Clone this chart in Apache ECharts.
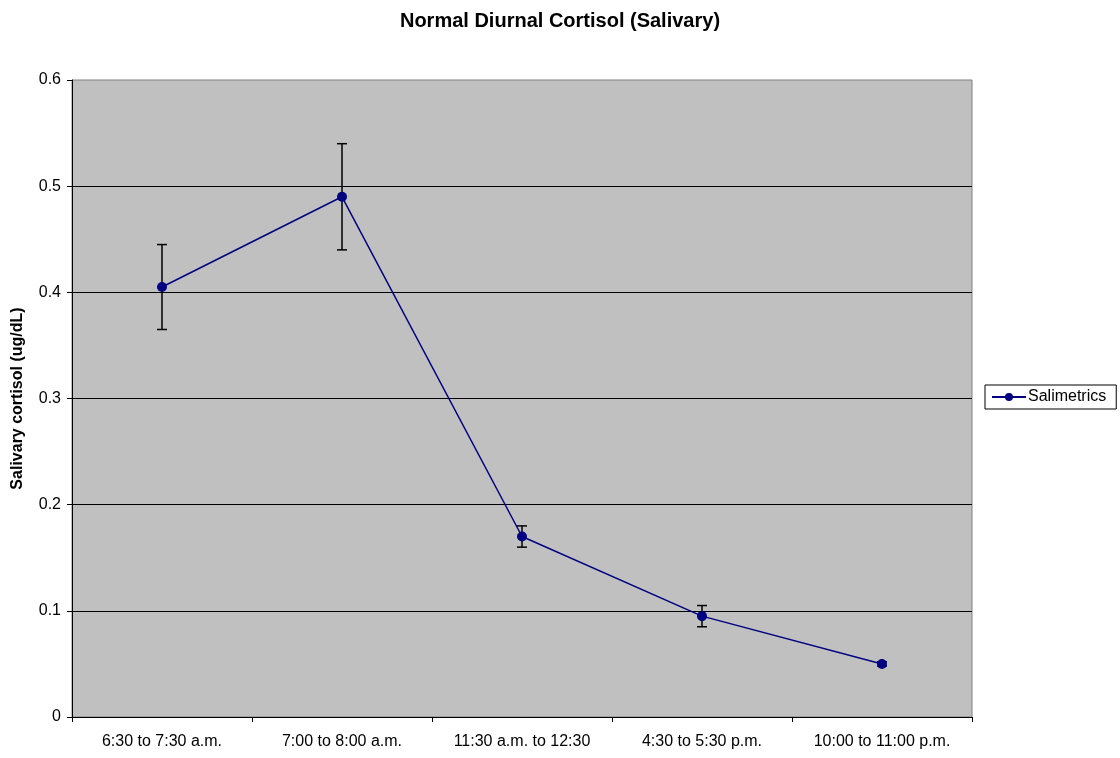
<!DOCTYPE html>
<html>
<head>
<meta charset="utf-8">
<script src="https://cdn.jsdelivr.net/npm/echarts@6/dist/echarts.min.js"></script>
<style>html,body{margin:0;padding:0;background:#fff}#c{width:1120px;height:758px}</style>
</head>
<body>
<div id="c"></div>
<script>
const categories = ['6:30 to 7:30 a.m.', '7:00 to 8:00 a.m.', '11:30 a.m. to 12:30', '4:30 to 5:30 p.m.', '10:00 to 11:00 p.m.'];
const values = [0.405, 0.49, 0.17, 0.095, 0.05];
const errLow = [0.365, 0.44, 0.16, 0.085, 0.048];
const errHigh = [0.445, 0.54, 0.18, 0.105, 0.052];
const seriesName = 'Salimetrics';

const font = 'Liberation Sans, Arial, sans-serif';
const chart = echarts.init(document.getElementById('c'));
const errData = categories.map((c, i) => [i, errLow[i], errHigh[i]]);
chart.setOption({
  animation: false,
  backgroundColor: '#fff',
  title: {
    text: 'Normal Diurnal Cortisol (Salivary)',
    left: 555, top: 6, textAlign: 'center',
    textStyle: {fontFamily: font, fontSize: 20, fontWeight: 'bold', color: '#000'}
  },
  legend: {
    data: [{name: seriesName}],
    left: 985, top: 385,
    orient: 'vertical',
    borderColor: '#000', borderWidth: 1,
    padding: [4, 10, 4, 6],
    itemWidth: 34, itemHeight: 10, itemGap: 4,
    textStyle: {fontFamily: font, fontSize: 16, color: '#000', padding: [0, 0, 0, -3]}
  },
  grid: {
    left: 72, right: 148, top: 80, bottom: 41,
    outerBoundsMode: 'none', containLabel: false,
    show: true, backgroundColor: '#C0C0C0', borderColor: '#808080', borderWidth: 1
  },
  xAxis: {
    type: 'category', data: categories, boundaryGap: true,
    axisLine: {lineStyle: {color: '#000', width: 1}},
    axisTick: {show: true, length: 5, lineStyle: {color: '#000'}},
    axisLabel: {fontFamily: font, fontSize: 16, color: '#000', margin: 17, interval: 0}
  },
  yAxis: {
    type: 'value', min: 0, max: 0.6, interval: 0.1,
    name: 'Salivary cortisol (ug/dL)', nameLocation: 'middle', nameGap: 46, nameRotate: 90,
    nameTextStyle: {fontFamily: font, fontSize: 16, fontWeight: 'bold', color: '#000'},
    axisLine: {show: true, lineStyle: {color: '#000', width: 1}},
    axisTick: {show: true, length: 5, lineStyle: {color: '#000'}},
    axisLabel: {fontFamily: font, fontSize: 16, color: '#000', margin: 11},
    splitLine: {show: true, showMinLine: false, showMaxLine: false, lineStyle: {color: '#000', width: 1}}
  },
  series: [
    {
      type: 'custom', name: 'err', silent: true, z: 3,
      data: errData,
      renderItem: function (params, api) {
        const x = api.coord([api.value(0), api.value(1)])[0];
        const yl = api.coord([api.value(0), api.value(1)])[1];
        const yh = api.coord([api.value(0), api.value(2)])[1];
        const w = 5;
        const st = {stroke: '#000', lineWidth: 1.5};
        return {type: 'group', children: [
          {type: 'line', shape: {x1: x, y1: yl, x2: x, y2: yh}, style: st},
          {type: 'line', shape: {x1: x - w, y1: yl, x2: x + w, y2: yl}, style: st},
          {type: 'line', shape: {x1: x - w, y1: yh, x2: x + w, y2: yh}, style: st}
        ]};
      }
    },
    {
      type: 'line', name: seriesName, data: values, z: 5,
      symbol: 'circle', symbolSize: 10,
      itemStyle: {color: '#000080'},
      lineStyle: {color: '#000080', width: 1.5}
    }
  ]
});
</script>
</body>
</html>
